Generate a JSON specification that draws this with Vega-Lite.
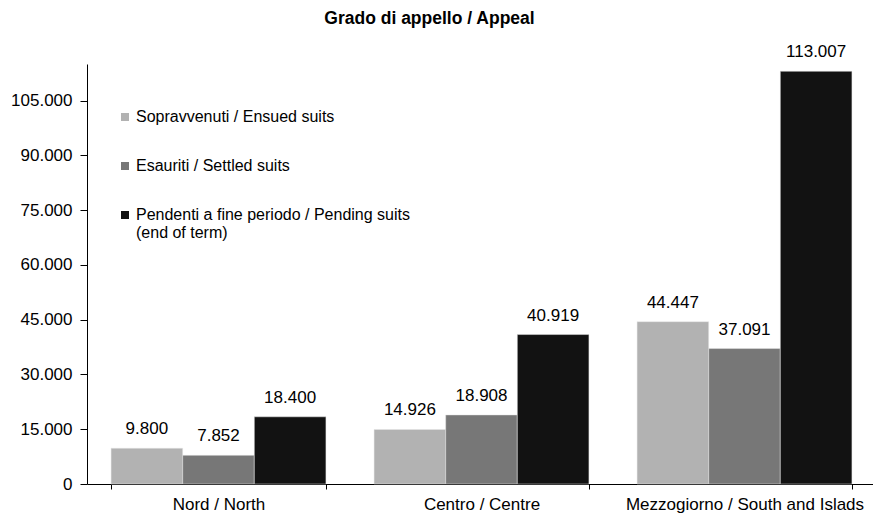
{
  "$schema": "https://vega.github.io/schema/vega-lite/v6.json",
  "width": 789,
  "height": 420,
  "autosize": {"type": "none"},
  "padding": {"left": 87, "top": 64, "right": 0, "bottom": 29},
  "background": "white",
  "title": {
    "text": "Grado di appello / Appeal",
    "fontSize": 17.5,
    "fontWeight": "bold",
    "font": "Liberation Sans",
    "color": "black",
    "anchor": "middle",
    "frame": "group",
    "dx": -52,
    "baseline": "alphabetic",
    "offset": 2
  },
  "data": {
    "values": [
      {"region": "Nord / North", "serie": "Sopravvenuti / Ensued suits", "value": 9800},
      {"region": "Nord / North", "serie": "Esauriti / Settled suits", "value": 7852},
      {"region": "Nord / North", "serie": "Pendenti a fine periodo / Pending suits (end of term)", "value": 18400},
      {"region": "Centro / Centre", "serie": "Sopravvenuti / Ensued suits", "value": 14926},
      {"region": "Centro / Centre", "serie": "Esauriti / Settled suits", "value": 18908},
      {"region": "Centro / Centre", "serie": "Pendenti a fine periodo / Pending suits (end of term)", "value": 40919},
      {"region": "Mezzogiorno / South and Islads", "serie": "Sopravvenuti / Ensued suits", "value": 44447},
      {"region": "Mezzogiorno / South and Islads", "serie": "Esauriti / Settled suits", "value": 37091},
      {"region": "Mezzogiorno / South and Islads", "serie": "Pendenti a fine periodo / Pending suits (end of term)", "value": 113007}
    ]
  },
  "encoding": {
    "x": {
      "field": "region",
      "type": "nominal",
      "sort": ["Nord / North", "Centro / Centre", "Mezzogiorno / South and Islads"],
      "scale": {"paddingInner": 0.183, "paddingOuter": 0.0915},
      "axis": {
        "title": null,
        "labelAngle": 0,
        "labelFontSize": 17,
        "labelColor": "black",
        "labelPadding": 15,
        "tickBand": "extent",
        "tickSize": 5,
        "tickColor": "black",
        "domainColor": "black",
        "labelLimit": 400
      }
    },
    "xOffset": {
      "field": "serie",
      "type": "nominal",
      "sort": ["Sopravvenuti / Ensued suits", "Esauriti / Settled suits", "Pendenti a fine periodo / Pending suits (end of term)"],
      "scale": {"paddingInner": 0, "paddingOuter": 0}
    },
    "y": {
      "field": "value",
      "type": "quantitative",
      "scale": {"domain": [0, 115000], "nice": false},
      "axis": {
        "title": null,
        "values": [0, 15000, 30000, 45000, 60000, 75000, 90000, 105000],
        "format": ",d",
        "grid": false,
        "labelFontSize": 17,
        "labelColor": "black",
        "labelOffset": 8,
        "tickSize": 7,
        "tickColor": "black",
        "domainColor": "black",
        "labelPadding": 8
      }
    }
  },
  "layer": [
    {
      "mark": {"type": "bar", "stroke": "#e6e6e6", "strokeWidth": 0.5},
      "encoding": {
        "color": {
          "field": "serie",
          "type": "nominal",
          "sort": ["Sopravvenuti / Ensued suits", "Esauriti / Settled suits", "Pendenti a fine periodo / Pending suits (end of term)"],
          "scale": {"range": ["#b2b2b2", "#777777", "#121212"]},
          "legend": {
            "title": null,
            "orient": "none",
            "legendX": 30,
            "legendY": 45,
            "padding": 0,
            "symbolType": "square",
            "symbolSize": 64,
            "symbolStrokeWidth": 0,
            "labelFontSize": 16,
            "labelColor": "black",
            "labelOffset": 3,
            "labelLimit": 500,
            "rowPadding": 33,
            "labelBaseline": "top",
            "labelExpr": "datum.label == 'Pendenti a fine periodo / Pending suits (end of term)' ? ['Pendenti a fine periodo / Pending suits', '(end of term)'] : datum.label"
          }
        }
      }
    },
    {
      "mark": {"type": "text", "baseline": "alphabetic", "dy": -14, "fontSize": 17, "color": "black"},
      "encoding": {
        "text": {"field": "value", "type": "quantitative", "format": ",d"}
      }
    }
  ],
  "config": {
    "font": "Liberation Sans",
    "view": {"stroke": null},
    "style": {"guide-label": {"dy": -8}},
    "locale": {
      "number": {"decimal": ",", "thousands": ".", "grouping": [3], "currency": ["€", ""]}
    }
  }
}
